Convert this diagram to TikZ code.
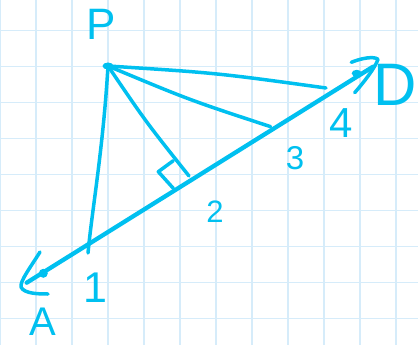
\documentclass[tikz,border=0pt]{standalone}
\usepackage{fontspec}
\setmainfont{Liberation Sans}
\definecolor{ink}{RGB}{0,192,240}
\definecolor{gridc}{RGB}{214,236,250}
\begin{document}
\begin{tikzpicture}[x=1pt,y=-1pt,
  inkline/.style={draw=ink,line width=3.5pt,line cap=round,line join=round},
  mainline/.style={draw=ink,line width=4.3pt,line cap=round,line join=round},
  lbl/.style={text=ink,inner sep=0pt,font=\fontsize{30}{30}\selectfont}]
\useasboundingbox (0,0) rectangle (418,345);
\fill[white] (0,0) rectangle (418,345);
% grid
\foreach \x in {0,36,...,396} \draw[gridc,line width=1.4pt] (\x,0) -- (\x,345);
\foreach \y in {30.7,66.7,...,330} \draw[gridc,line width=1.4pt] (0,\y) -- (418,\y);
% points
\coordinate (P) at (108,66);
\coordinate (A) at (26.7,282.7);
\coordinate (D) at (373,66.7);
\coordinate (F1) at (88,253);
\coordinate (F2) at (189,176);
\coordinate (F3) at (270.7,126.7);
\coordinate (F4) at (326,88);
% main line
\draw[mainline] (A) -- (D);
\fill[ink] (43.3,273.3) circle (4.5);
\fill[ink] (356.7,73.3) ellipse (5 and 3.5);
% arrowheads
\draw[inkline] (40,252) .. controls (30,268) and (20,281) .. (21,287) .. controls (24,294) and (40,294) .. (48,294);
\draw[inkline] (351.3,62.3) .. controls (362,58) and (374,56) .. (378,59.3) .. controls (375,68) and (364,82) .. (354.7,92.7);
% lines from P
\fill[ink] (P) ellipse (5.5 and 3.5);
\draw[inkline] (P) .. controls (103,150) and (92,210) .. (F1);
\draw[inkline] (P) .. controls (146,122) .. (F2);
\draw[inkline] (P) .. controls (189.4,100) .. (F3);
\draw[inkline] (P) .. controls (217,73) .. (F4);
% right-angle mark
\draw[inkline] (173.3,160.7) -- (158.3,171.7) -- (173.3,188.3);
% labels
\node[lbl,font=\fontsize{44}{44}\selectfont] (lP) at (101,24) {P};
\node[lbl,font=\fontsize{60}{60}\selectfont] (lD) at (395,85) {D};
\node[lbl,font=\fontsize{42}{42}\selectfont] (l4) at (341,123) {4};
\node[lbl,font=\fontsize{33}{33}\selectfont] (l3) at (295,158) {3};
\node[lbl,font=\fontsize{31}{31}\selectfont] (l2) at (215,212) {2};
\node[lbl,font=\fontsize{43}{43}\selectfont] (l1) at (95,288) {1};
\node[lbl,font=\fontsize{40}{40}\selectfont] (lA) at (43,322) {A};
\end{tikzpicture}
\end{document}
